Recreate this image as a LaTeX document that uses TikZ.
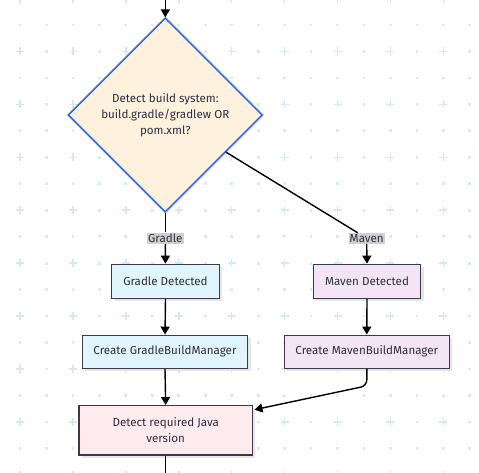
\documentclass[tikz,border=0pt]{standalone}
\usepackage{fontspec}
\setmainfont{Fira Sans}
\usetikzlibrary{shapes.geometric,arrows.meta}
\definecolor{gridc}{HTML}{D3EAF0}
\definecolor{dotc}{HTML}{D6ECF1}
\definecolor{diafill}{HTML}{FEF1DE}
\definecolor{diaborder}{HTML}{2B5CE6}
\definecolor{diaglow}{HTML}{A9C0F7}
\definecolor{gfill}{HTML}{E1F5FE}
\definecolor{mfill}{HTML}{F3E5F5}
\definecolor{jfill}{HTML}{FFEBEE}
\definecolor{boxline}{HTML}{3A3A4C}
\definecolor{txt}{HTML}{2E2E40}
\definecolor{lblfill}{HTML}{D0D0D0}
\definecolor{shadowc}{HTML}{E6E6E6}
\tikzset{
  boxnode/.style={draw=boxline, line width=1.3pt, text=txt, font=\fontsize{11.6}{14}\selectfont,
    align=center, inner sep=0pt},
  diabox/.style={diamond, draw=diaborder, fill=diafill, line width=1.2pt, text=txt,
    font=\fontsize{11.6}{16}\selectfont, align=center, inner sep=0pt,
    minimum width=194pt, minimum height=194pt},
  lbl/.style={fill=lblfill, text=txt, font=\fontsize{11.6}{13}\selectfont, inner sep=1.2pt},
  edge/.style={line width=1.4pt, black},
  arr/.style={edge, -{Triangle[length=8pt,width=9pt]}},
  gdot/.style={fill=dotc, draw=none},
  gplus/.style={draw=gridc, line width=1.5pt}
}
\begin{document}
\begin{tikzpicture}[x=1pt,y=-1pt]
\useasboundingbox (0,0) rectangle (479,473);
\fill[white] (0,0) rectangle (479,473);
% background grid
\foreach \i in {0,...,17}{
  \foreach \j in {-1,...,17}{
    \pgfmathsetmacro{\gx}{20+\i*26.46}
    \pgfmathsetmacro{\gy}{25+\j*26.46}
    \pgfmathtruncatemacro{\ie}{mod(\i,2)}
    \pgfmathtruncatemacro{\jo}{mod(\j+2,2)}
    \pgfmathtruncatemacro{\isplus}{(\ie==0)&&(\jo==1)}
    \ifnum\isplus=1
      \draw[gplus] (\gx-4,\gy) -- (\gx+4,\gy) (\gx,\gy-4) -- (\gx,\gy+4);
    \else
      \fill[gdot] (\gx-1.4,\gy-1.4) rectangle (\gx+1.4,\gy+1.4);
    \fi
  }
}
% shadows
\foreach \cx/\cy/\w/\h in {165.5/281.3/107.6/34, 165/351.7/165.6/33, 165.7/430.3/173.3/49.3, 367/281.3/107.4/34, 366.8/351.7/165/33}{
  \fill[shadowc] (\cx-\w/2+3,\cy-\h/2+3) rectangle (\cx+\w/2+3,\cy+\h/2+3);
}
% nodes
\coordinate (topin) at (165.3,0);
\coordinate (botout) at (165.7,473);
\node[diabox, draw=diaglow, line width=3.5pt] at (165.3,115) {};
\node[diabox] (dia) at (165.3,115) {Detect build system:\\build.gradle/gradlew OR\\pom.xml?};
\node[boxnode, fill=gfill, minimum width=107.6pt, minimum height=34pt] (gd) at (165.5,281.3) {Gradle Detected};
\node[boxnode, fill=gfill, minimum width=165.6pt, minimum height=33pt] (gbm) at (165,351.7) {Create GradleBuildManager};
\node[boxnode, fill=jfill, minimum width=173.3pt, minimum height=49.3pt, font=\fontsize{11.6}{16}\selectfont] (java) at (165.7,430.3) {Detect required Java\\version};
\node[boxnode, fill=mfill, minimum width=107.4pt, minimum height=34pt] (md) at (367,281.3) {Maven Detected};
\node[boxnode, fill=mfill, minimum width=165pt, minimum height=33pt] (mbm) at (366.8,351.7) {Create MavenBuildManager};
\node[lbl] (glabel) at (165.3,238.3) {Gradle};
\node[lbl] (mlabel) at (366.7,238.3) {Maven};
% edges
\draw[arr] (topin) -- (dia.north);
\draw[edge] (dia.south) -- (glabel.north);
\draw[arr] (glabel.south) -- (gd.north);
\draw[edge] (dia) -- (mlabel);
\draw[arr] (mlabel.south) -- (md.north);
\draw[arr] (gd.south) -- (gbm.north);
\draw[arr] (gbm.south) -- (java.north);
\draw[arr] (md.south) -- (mbm.north);
\draw[arr, rounded corners=6pt, shorten >=1.5pt] (mbm.south) -- ++(0,17) -- ([yshift=-5pt]java.north east);
\draw[edge] (java.south) -- (botout);
\end{tikzpicture}
\end{document}
